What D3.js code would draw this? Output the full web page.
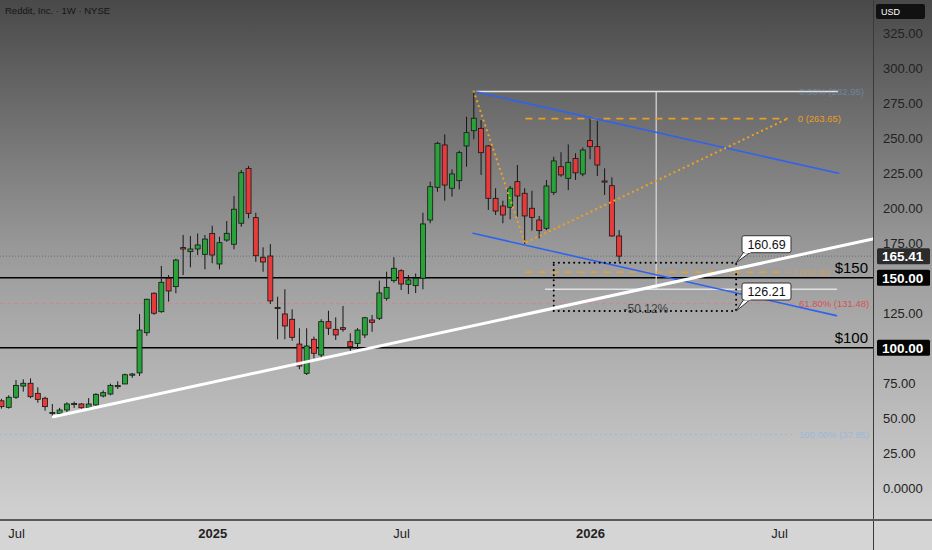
<!DOCTYPE html>
<html><head><meta charset="utf-8">
<script src="https://cdn.jsdelivr.net/npm/d3@7"></script>
<style>html,body{margin:0;padding:0;background:#d4d4d4;} svg{display:block}</style>
</head><body><svg id="c" width="932" height="550"></svg>
<script>
// ---------- DATA ----------
const title = "Reddit, Inc. · 1W · NYSE";
const firstWeek = "2024-06-17"; // weekly bars, Monday dates
const opens  = [62.1,57.4,64.6,72.6,74.6,67.4,63.9,53.3,53.1,55.5,59.6,59.8,57.4,59.1,65.5,66.9,72.5,74.1,80.5,82.0,110.7,138.9,125.7,149.6,143.6,171.5,168.6,170.5,166.7,181.6,159.8,176.9,173.9,188.9,228.1,192.9,164.6,165.5,128.8,124.1,120.3,102.6,81.7,106.0,94.8,118.6,113.1,114.3,104.3,103.1,109.1,119.8,121.0,135.3,147.9,155.0,145.3,144.3,149.6,191.2,214.6,244.8,213.9,219.3,244.1,255.0,256.7,244.1,206.7,201.2,200.3,218.6,210.3,199.6,191.2,185.3,211.0,229.3,221.0,235.2,224.1,247.9,243.6,219.1,215.7,179.8];
const highs  = [63.5,66.0,76.9,77.4,78.1,71.7,65.0,59.8,57.0,61.0,61.5,60.5,64.0,67.5,69.5,74.3,76.0,81.5,82.0,124.0,135.0,139.5,158.4,151.9,163.5,180.5,179.8,181.6,180.5,187.1,179.3,190.5,208.4,226.9,229.8,196.4,171.7,174.0,136.4,141.7,127.4,113.9,113.9,107.9,120.3,126.4,121.7,129.8,110.3,114.0,122.0,123.4,147.9,154.3,164.6,156.0,151.9,153.0,196.4,218.6,247.1,252.4,227.4,240.7,265.0,282.95,262.6,244.8,213.9,205.0,215.5,230.5,213.9,212.1,194.1,219.8,236.4,239.6,245.2,238.9,243.0,263.65,262.0,228.1,221.7,184.0];
const lows   = [56.5,56.5,63.4,68.6,63.9,60.7,55.0,50.5,52.0,54.0,57.0,56.5,56.0,58.5,64.5,66.0,70.5,74.0,78.5,79.8,108.5,123.5,125.0,132.9,138.9,151.9,157.4,166.2,156.0,160.3,156.0,175.7,170.3,186.4,192.4,161.4,154.3,131.2,106.0,106.0,105.0,84.6,80.5,92.4,91.7,109.1,105.5,111.4,96.0,99.0,107.0,111.4,119.8,133.6,146.4,141.2,138.4,139.0,141.7,188.9,211.4,205.0,207.9,213.1,229.3,248.9,223.4,198.4,194.8,188.9,191.7,193.4,174.1,183.6,178.1,184.0,209.1,222.1,212.6,219.8,222.5,234.6,222.6,209.1,179.3,161.4];
const closes = [57.9,64.6,73.1,74.6,65.0,63.1,57.9,53.8,55.5,59.8,60.2,57.1,59.8,66.7,67.9,73.1,73.0,80.7,81.2,112.6,134.6,124.6,146.7,140.5,162.6,170.5,170.5,173.4,177.6,166.2,175.0,181.7,198.9,225.0,196.0,165.7,161.2,133.4,128.1,115.5,107.4,86.9,101.2,96.0,118.6,113.9,109.1,113.1,100.7,112.6,121.4,118.1,139.1,143.1,156.7,145.5,148.4,149.6,188.4,215.0,246.0,216.2,224.1,239.3,253.6,263.9,239.3,206.7,197.6,194.8,213.9,208.4,194.1,193.1,183.6,215.5,233.4,223.4,232.4,224.9,241.2,243.6,230.5,218.4,179.8,165.41];

const priceTicks = [0,25,50,75,100,125,150,175,200,225,250,275,300,325];
const timeTicks = ["2024-07-01","2025-01-06","2025-07-07","2026-01-05","2026-07-06"];
const timeTickLabels = ["Jul","2025","Jul","2026","Jul"];
const timeTickBold = [false,true,false,true,false];

const lastPrice = 165.41;
const keyLevels = [150, 100];
const keyLevelLabels = ["$150", "$100"];

// drawings: [weeks from first bar, price]
const trendLine = [[7.13,50.7],[119.9,177.6]];
const channelUpper = [[65.4,282.6],[115.2,224.6]];
const channelLower = [[64.9,181.7],[114.9,122.9]];
const orangeLeg1 = [[65.0,282.95],[72.0,175.5]];
const orangeLeg2 = [[72.3,175.5],[108.2,263.65]];
const orangeLevels = [263.65, 153.98];
const orangeLabels = ["0 (263.65)", "1 (153.98)"];
const orangeSpan = [72.1, 108.2];
const fibLevels = [282.95, 131.48, 37.85];
const fibLabels = ["0.00% (282.95)", "61.80% (131.48)", "100.00% (37.85)"];
const fibSpanEnd = 109.2;
const topSpan = [65.3, 115.1];
const rangeVertical = [90.1, 282.95, 141.7];
const rangeHorizontal = [141.7, 74.8, 115.0];
const boxWeeks = [76.0, 101.1];
const boxPrices = [160.69, 126.21];
const boxChange = "-50.12%";

// ---------- SETUP ----------
const W = 932, H = 550, plotR = 873, plotB = 520;
const svg = d3.select("#c");
const FONT = "'Liberation Sans', Arial, sans-serif";
const DAY = 864e5;
const t0 = Date.parse(firstWeek + "T00:00:00Z");
const wDate = w => new Date(t0 + w * 7 * DAY);

const x = d3.scaleUtc()
  .domain([Date.parse("2024-07-01T00:00:00Z"), Date.parse("2026-07-06T00:00:00Z")])
  .range([16, 779]);
const y = d3.scaleLinear().domain([0, 325]).range([487.7, 32.7]);
const xw = w => x(wDate(w));

const candles = opens.map((o, i) => ({date: wDate(i), o, h: highs[i], l: lows[i], c: closes[i]}));

// background gradient
const defs = svg.append("defs");
const gr = defs.append("linearGradient").attr("id","bg").attr("x1",0).attr("y1",0).attr("x2",0).attr("y2",1);
gr.append("stop").attr("offset","0%").attr("stop-color","#494949");
gr.append("stop").attr("offset","50%").attr("stop-color","#9c9c9c");
gr.append("stop").attr("offset","100%").attr("stop-color","#d1d1d1");
defs.append("clipPath").attr("id","plot").append("rect").attr("x",0).attr("y",0).attr("width",plotR).attr("height",plotB);

svg.append("rect").attr("width",W).attr("height",plotB).attr("fill","url(#bg)");
svg.append("rect").attr("y",plotB).attr("width",W).attr("height",H-plotB).attr("fill","#d5d5d5");

const g = svg.append("g").attr("clip-path","url(#plot)");

// fib levels (lower ones extend left)
const fibColors = ["#7fb0e8", "#d98080", "#8fb6d8"];
const fibText = ["#7fb0e8", "#e04848", "#8fb6e0"];
const fibOpacity = [0.4, 0.9, 0.75];
fibLevels.forEach((p, i) => {
  if (i > 0) {
    g.append("line").attr("x1",0).attr("x2",xw(fibSpanEnd)).attr("y1",y(p)).attr("y2",y(p))
      .attr("stroke", fibColors[i]).attr("stroke-width",1)
      .attr("stroke-dasharray", i===1 ? "4,3" : "2,3").attr("opacity", 0.8);
  }
});

// last price dotted line
g.append("line").attr("x1",0).attr("x2",plotR).attr("y1",y(lastPrice)).attr("y2",y(lastPrice))
  .attr("stroke","#6a6a6a").attr("stroke-width",1).attr("stroke-dasharray","1,2");

// key horizontal levels
keyLevels.forEach((p, i) => {
  g.append("line").attr("x1",0).attr("x2",plotR).attr("y1",y(p)).attr("y2",y(p))
    .attr("stroke","#000").attr("stroke-width",1.5);
  g.append("text").attr("x",868).attr("y",y(p)-5).attr("text-anchor","end").text(keyLevelLabels[i])
    .attr("font-family",FONT).attr("font-size",15).attr("fill","#000");
});

// top white level & range lines
g.append("line").attr("x1",xw(topSpan[0])).attr("x2",xw(topSpan[1])).attr("y1",y(fibLevels[0])).attr("y2",y(fibLevels[0]))
  .attr("stroke","#e6e6e6").attr("stroke-width",1.5);
g.append("line").attr("x1",xw(rangeVertical[0])).attr("x2",xw(rangeVertical[0]))
  .attr("y1",y(rangeVertical[1])).attr("y2",y(rangeVertical[2])).attr("stroke","#dcdcdc").attr("stroke-width",1.2);
g.append("line").attr("x1",xw(rangeHorizontal[1])).attr("x2",xw(rangeHorizontal[2]))
  .attr("y1",y(rangeHorizontal[0])).attr("y2",y(rangeHorizontal[0])).attr("stroke","#e2e2e2").attr("stroke-width",1.5);

// fib labels
fibLevels.forEach((p, i) => {
  g.append("text").attr("x",xw(fibSpanEnd)+4).attr("y",y(p)+3.5).text(fibLabels[i])
    .attr("font-family",FONT).attr("font-size",9.5)
    .attr("fill", fibText[i]).attr("opacity", fibOpacity[i]);
});

// orange levels
orangeLevels.forEach((p, i) => {
  g.append("line").attr("x1",xw(orangeSpan[0])).attr("x2",xw(orangeSpan[1])).attr("y1",y(p)).attr("y2",y(p))
    .attr("stroke","#f0a020").attr("stroke-width",1.6).attr("stroke-dasharray","7,6").attr("opacity", i===0?0.95:0.8);
  g.append("text").attr("x",xw(orangeSpan[1])+ (i===0?10:5)).attr("y",y(p)+ (i===0?3.5:3)).text(orangeLabels[i])
    .attr("font-family",FONT).attr("font-size",i===0?9.5:8).attr("fill","#f0a020").attr("opacity", i===0?0.95:0.55);
});

// candles
const green = "#28a33a", red = "#e53b3b", edge = "#161616", bw = 5;
g.selectAll("line.wick").data(candles).join("line").attr("class","wick")
  .attr("x1",d=>x(d.date)).attr("x2",d=>x(d.date)).attr("y1",d=>y(d.h)).attr("y2",d=>y(d.l))
  .attr("stroke",edge).attr("stroke-width",1);
g.selectAll("rect.body").data(candles).join("rect").attr("class","body")
  .attr("x",d=>x(d.date)-bw/2).attr("width",bw)
  .attr("y",d=>y(Math.max(d.o,d.c))).attr("height",d=>Math.max(1.2,Math.abs(y(d.o)-y(d.c))))
  .attr("fill",d=>d.c>=d.o?green:red).attr("stroke",edge).attr("stroke-width",0.8);

// lines helper
const seg = (pts, color, w, dash) => {
  const l = g.append("line").attr("x1",xw(pts[0][0])).attr("y1",y(pts[0][1]))
    .attr("x2",xw(pts[1][0])).attr("y2",y(pts[1][1])).attr("stroke",color).attr("stroke-width",w)
    .attr("stroke-linecap","round");
  if (dash) l.attr("stroke-dasharray",dash);
  return l;
};
seg(channelUpper, "#2f62f0", 1.6);
seg(channelLower, "#2f62f0", 1.6);
seg(orangeLeg1, "#f0a020", 2.2, "0.1,5");
seg(orangeLeg2, "#f0a020", 2.2, "0.1,5");

// dotted box
const bx0 = xw(boxWeeks[0]), bx1 = xw(boxWeeks[1]), by0 = y(boxPrices[0]), by1 = y(boxPrices[1]);
g.append("rect").attr("x",bx0).attr("y",by0).attr("width",bx1-bx0).attr("height",by1-by0)
  .attr("fill","none").attr("stroke","#000").attr("stroke-width",2).attr("stroke-dasharray","0.1,5").attr("stroke-linecap","round");

// trend line (white ray)
seg(trendLine, "#ffffff", 3);

g.append("text").attr("x",(bx0+bx1)/2 + 1).attr("y",by1+2).attr("text-anchor","middle").text(boxChange)
  .attr("font-family",FONT).attr("font-size",12).attr("fill","#444");

// callouts
boxPrices.forEach((p, i) => {
  const cy = y(p), cx = bx1;
  const rx = 742, rw = 49, rh = 17, ry = i===0 ? cy - 27 : cy - 28;
  const cg = svg.append("g");
  cg.append("path").attr("d",`M${rx+2},${ry+rh-1} L${cx},${cy} L${rx+9},${ry+rh-1} Z`)
    .attr("fill","#fff").attr("stroke","#333").attr("stroke-width",1);
  cg.append("rect").attr("x",rx).attr("y",ry).attr("width",rw).attr("height",rh).attr("rx",2)
    .attr("fill","#fff").attr("stroke","#333").attr("stroke-width",1);
  cg.append("path").attr("d",`M${rx+2.5},${ry+rh-0.5} L${rx+8.5},${ry+rh-0.5}`).attr("stroke","#fff").attr("stroke-width",1.5);
  cg.append("text").attr("x",rx+rw/2).attr("y",ry+13).attr("text-anchor","middle").text(p.toFixed(2))
    .attr("font-family",FONT).attr("font-size",12.5).attr("fill","#111");
});

// ---------- AXES ----------
svg.append("line").attr("x1",plotR+0.5).attr("x2",plotR+0.5).attr("y1",0).attr("y2",H).attr("stroke","#3a3a3a").attr("stroke-width",1);
svg.append("line").attr("x1",0).attr("x2",W).attr("y1",plotB).attr("y2",plotB).attr("stroke","#5a5a5a").attr("stroke-width",2);

const yAxis = d3.axisRight(y).tickValues(priceTicks).tickSize(0).tickPadding(0)
  .tickFormat(v => v === 0 ? "0.0000" : v.toFixed(2));
const ya = svg.append("g").attr("transform",`translate(883,0)`).call(yAxis);
ya.select(".domain").remove();
ya.selectAll("text").attr("font-family",FONT).attr("font-size",13).attr("fill","#222").attr("dy","0.35em");

const xAxis = d3.axisBottom(x).tickValues(timeTicks.map(s => Date.parse(s+"T00:00:00Z"))).tickSize(0)
  .tickFormat((d,i) => timeTickLabels[i]);
const xa = svg.append("g").attr("transform",`translate(0,${plotB})`).call(xAxis);
xa.select(".domain").remove();
xa.selectAll("text").attr("font-family",FONT).attr("font-size",13).attr("fill","#222").attr("dy","0").attr("y",18)
  .attr("font-weight",(d,i)=>timeTickBold[i]?"bold":"normal");

// price labels on axis
const axisBox = (p, fill, txt) => {
  const cy = y(p);
  svg.append("rect").attr("x",877).attr("y",cy-8).attr("width",53).attr("height",16).attr("rx",1.5).attr("fill",fill);
  svg.append("text").attr("x",882).attr("y",cy+5).text(txt).attr("font-family",FONT).attr("font-size",13.5)
    .attr("font-weight","bold").attr("fill","#fff");
};
axisBox(lastPrice, "#2c2c2c", lastPrice.toFixed(2));
keyLevels.forEach(p => axisBox(p, "#050505", p.toFixed(2)));

// USD badge
svg.append("rect").attr("x",876).attr("y",4).attr("width",49).attr("height",15).attr("rx",2).attr("fill","#111");
svg.append("text").attr("x",881).attr("y",15).text("USD").attr("font-family",FONT).attr("font-size",9).attr("fill","#fff");

// title
svg.append("text").attr("x",5).attr("y",14).text(title).attr("font-family",FONT).attr("font-size",9.5).attr("fill","#151515");
</script></body></html>
